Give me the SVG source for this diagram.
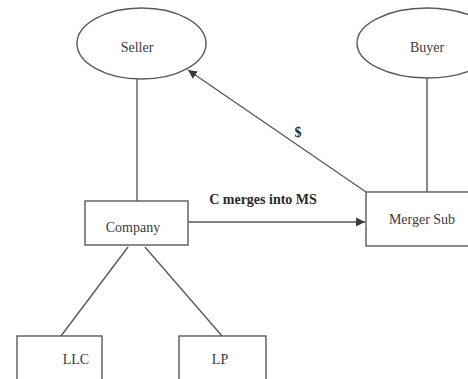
<svg xmlns="http://www.w3.org/2000/svg" width="468" height="379" viewBox="0 0 468 379">
  <style>
    .shape { fill: #ffffff; stroke: #5a5a5a; stroke-width: 1.4; }
    .line { stroke: #5a5a5a; stroke-width: 1.4; fill: none; }
    .label { font-family: "Liberation Serif", "Times New Roman", serif; font-size: 14px; fill: #3a3a3a; text-anchor: middle; }
    .bold { font-weight: bold; fill: #2a2a2a; }
  </style>
  <defs>
    <marker id="arrow" viewBox="0 0 10 10" refX="10" refY="5" markerWidth="9" markerHeight="9" markerUnits="userSpaceOnUse" orient="auto">
      <path d="M0,0 L10,5 L0,10 z" fill="#3a3a3a"/>
    </marker>
  </defs>
  <rect width="468" height="379" fill="#ffffff"/>

  <!-- connectors -->
  <g id="connectors">
    <line class="line" x1="137" y1="79" x2="137" y2="201"/>
    <line class="line" x1="427" y1="78" x2="427" y2="192"/>
    <line class="line" x1="128" y1="247" x2="61" y2="336"/>
    <line class="line" x1="145" y1="247" x2="222" y2="336"/>
    <line class="line" x1="188" y1="222" x2="365" y2="222" marker-end="url(#arrow)"/>
    <line class="line" x1="366" y1="192" x2="188" y2="70" marker-end="url(#arrow)"/>
    <text class="label bold" x="298" y="137">$</text>
    <text class="label bold" x="263" y="204">C merges into MS</text>
  </g>

  <g id="seller">
    <ellipse class="shape" cx="141.5" cy="43.5" rx="64.5" ry="35.5"/>
    <text class="label" x="137" y="52">Seller</text>
  </g>

  <g id="buyer">
    <ellipse class="shape" cx="427" cy="43" rx="70" ry="35"/>
    <text class="label" x="427" y="52">Buyer</text>
  </g>

  <g id="company">
    <rect class="shape" x="85" y="201" width="103" height="44"/>
    <text class="label" x="133" y="232">Company</text>
  </g>

  <g id="merger-sub">
    <rect class="shape" x="366" y="192" width="120" height="54"/>
    <text class="label" x="422" y="224">Merger Sub</text>
  </g>

  <g id="llc">
    <rect class="shape" x="17" y="336" width="85" height="60"/>
    <text class="label" x="76" y="364">LLC</text>
  </g>

  <g id="lp">
    <rect class="shape" x="179" y="336" width="87" height="60"/>
    <text class="label" x="220" y="364">LP</text>
  </g>
</svg>
